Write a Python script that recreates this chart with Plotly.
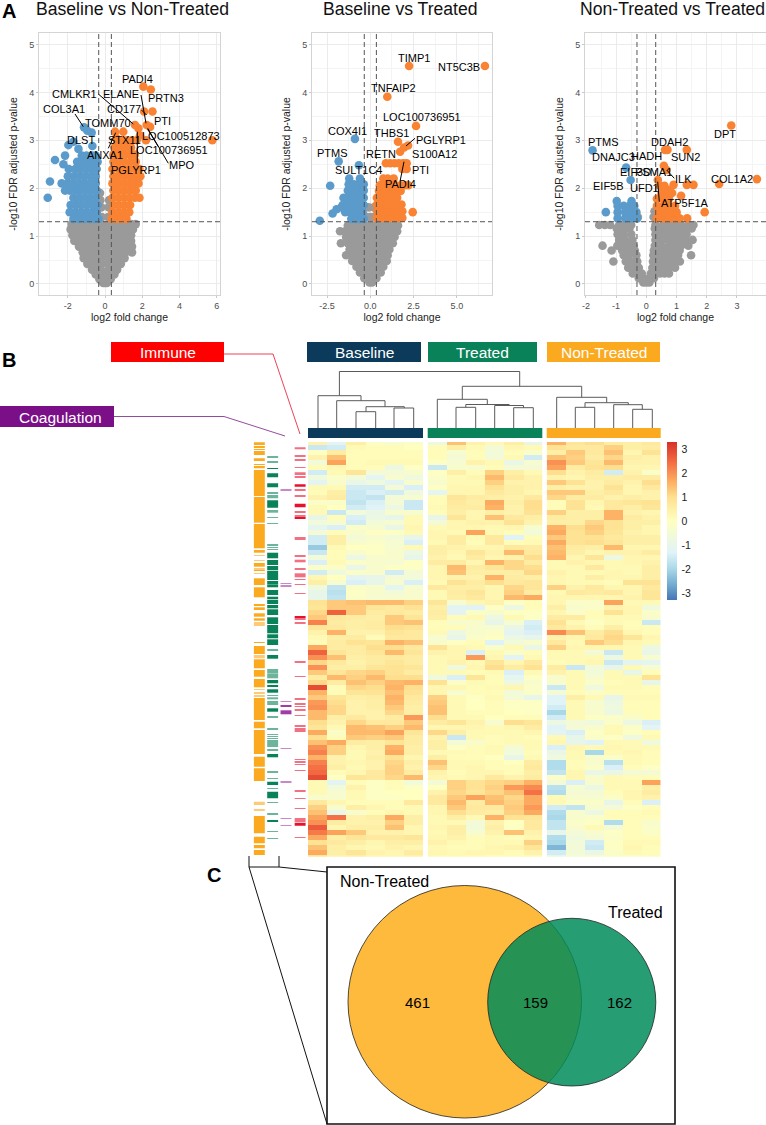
import plotly.graph_objects as go

W, H = 766, 1125
FONT = "Liberation Sans"
ORANGE, BLUE, GRAY = "#F98332", "#5A9BCB", "#9A9A9A"
C_BASE, C_TREAT, C_NON = "#0B3A5B", "#0A8259", "#FBA91E"

# ---------------- volcano data (y level: log2 fold changes) ----------------
v1_gray = {
 .02:[-.1,0,.1], .1:[-.3,-.15,0,.15,.3], .2:[-.5,-.3,-.1,.1,.3,.5], .3:[-.7,-.45,-.22,.2,.45,.65],
 .42:[-.95,-.7,-.45,-.18,.18,.45,.7,.85], .54:[-1.15,-.85,-.55,-.2,.17,.5,.8,1.05],
 .66:[-1.2,-.95,-.65,-.35,-.17,.17,.55,.85,1.1,1.45], .78:[-1.4,-1.2,-.85,-.55,-.2,.17,.55,.85,1.15,1.45],
 .9:[-1.65,-1.4,-1.1,-.8,-.5,-.18,.17,.5,.8,1.1,1.4], 1.02:[-1.75,-1.4,-1.1,-.8,-.5,-.18,.17,.5,.8,1.1,1.4],
 1.14:[-1.85,-1.55,-1.25,-.95,-.65,-.35,-.17,.17,.5,.8,1.1,1.5], 1.25:[-1.8,-1.5,-1.2,-.9,-.6,-.3,-.17,.17,.5,.8,1.1,1.4,1.65],
 1.4:[-.17,.17], 1.6:[-.2,.2], 1.75:[-.25,.22], 1.9:[-.27]}
v1_blue = {
 1.36:[-1.7,-1.4,-1.1,-.8,-.55,-.35], 1.5:[-1.9,-1.6,-1.3,-1,-.7,-.45], 1.65:[-1.85,-1.55,-1.25,-.95,-.65,-.4],
 1.8:[-3.08,-1.7,-1.4,-1.1,-.8,-.5], 1.95:[-2.15,-1.9,-1.6,-1.3,-1,-.7,-.45], 2.1:[-2.33,-2,-1.7,-1.4,-1.1,-.8,-.5],
 2.14:[-2.96], 2.25:[-2,-1.7,-1.4,-1.1,-.8,-.5], 2.4:[-1.95,-1.6,-1.3,-1,-.7,-.45], 2.5:[-2.24],
 2.55:[-1.5,-1.2,-.9,-.6,-.4], 2.59:[-2.69], 2.68:[-2.15,-1.25,-1,-.7,-.5], 2.82:[-1.43], 2.88:[-.68],
 2.9:[-1.97], 2.97:[-1.7], 3.16:[-.72], 3.2:[-.95], 3.27:[-1.13]}
v1_orange = {
 1.36:[.35,.6,.9,1.15], 1.5:[.4,.7,1,1.3], 1.65:[.45,.75,1.05,1.35], 1.8:[.4,.7,1,1.3,1.6,1.85],
 1.95:[.45,.75,1.05,1.35,1.65], 2.1:[.4,.7,1,1.3,1.6,1.8], 2.25:[.45,.75,1.05,1.35,1.65,1.9],
 2.4:[.4,.7,1,1.3,1.6,1.85], 2.55:[.45,.75,1.05,1.35,1.65], 2.7:[.45,.75,1.05,1.35,1.6],
 2.85:[.5,.8,1.1,1.4], 3.0:[.65,.95,1.2,1.45,1.7,2.2,5.77], 3.05:[.6], 3.1:[1.88], 3.18:[.54,.98],
 3.25:[1.79], 3.28:[2.42], 3.32:[1.61,2.24], 3.6:[2.1,2.55], 4.06:[2.46], 4.12:[2.06]}

v2_gray = {
 .03:[-.05,.1], .12:[-.35,-.15,.15,.35], .24:[-.6,-.35,-.1,.15,.4,.6], .36:[-.8,-.5,-.25,0,.25,.5,.75],
 .48:[-1.05,-.75,-.45,-.2,0,.2,.45,.7,.95], .6:[-1.4,-1.1,-.8,-.5,-.25,0,.2,.45,.7,1],
 .72:[-1.2,-.9,-.6,-.3,0,.2,.5,.8,1.1], .85:[-1.7,-1.3,-1,-.7,-.4,-.2,.05,.25,.5,.8,1.1,1.3],
 .98:[-1.4,-1.1,-.8,-.5,-.25,0,.2,.5,.8,1.1,1.4], 1.1:[-1.75,-1.45,-1.15,-.85,-.55,-.3,0,.2,.5,.8,1.1,1.4,1.55],
 1.22:[-1.3,-1,-.7,-.4,-.2,0,.2,.5,.8,1.1,1.4,1.6], 1.4:[-.2,0,.2], 1.6:[-.1,.2]}
v2_blue = {
 1.32:[-2.92], 1.36:[-1.1,-.85,-.6,-.38], 1.47:[-2.18], 1.5:[-1.45,-1.2,-.95,-.7,-.45], 1.56:[-1.95],
 1.6:[-1.66], 1.65:[-1.6,-1.35,-1.1,-.85,-.6,-.38], 1.8:[-1.55,-1.3,-1.05,-.8,-.55,-.38],
 1.95:[-1.3,-1.05,-.8,-.55,-.38], 2.05:[-2.32], 2.08:[-1.25,-.95,-.7,-.45,-.38], 2.2:[-1.22,-.6],
 2.48:[-.66], 2.56:[-1.83], 3.03:[-.89]}
v2_orange = {
 1.38:[.38,.6,.85,1.1,1.35,1.6,1.85], 1.5:[2.45], 1.52:[.4,.7,1,1.3,1.6,1.85], 1.66:[.38,.65,.95,1.25,1.55,1.8],
 1.8:[.38,.65,.95,1.25,1.55], 1.94:[.5,.8,1.1,1.4,1.75], 2.06:[.55,.85,1.15,1.45,1.75,2.0,2.2],
 2.2:[.75,1.0,1.35], 2.4:[1.85,2.1], 2.52:[.9,1.15,1.4,1.65,1.9,2.1], 2.76:[1.72], 2.85:[1.95],
 2.89:[2.18], 2.97:[1.6], 3.3:[2.64], 3.91:[.98], 4.55:[2.24,6.62]}

v3_gray = {
 .03:[-.1,0,.1], .12:[-.25,-.1,.1,.25], .22:[-.45,-.3,-.15,.15,.3,.45,.6,.75], .34:[-.6,-.42,-.25,.2,.35,.55,.75,.95],
 .47:[-1.09,-.68,-.5,-.3,.22,.4,.6,.8,1.0,1.11], .6:[-.75,-.58,-.33,.23,.45,.65,.85,1.05,1.48],
 .7:[-1.15,-.8,-.6,-.38,.25,.5,.7,.9,1.1], .8:[-1.45,-.96,-.8,-.62,-.42,.28,.5,.75,.95,1.15,1.39],
 .92:[-.9,-.7,-.46,.3,.5,.7,.9,1.1,1.3,1.53], 1.04:[-.95,-.75,-.5,.3,.5,.7,.9,1.1,1.33],
 1.16:[-.98,-.75,-.56,.28,.45,.65,.85,1.05,1.25,1.5], 1.23:[-1.56,-1.37,-1.2,-.9,-.7,-.5,.3,.55,.75,.95,1.15,1.4,1.56],
 1.4:[.24,-.28], 1.52:[.27]}
v3_blue = {
 1.37:[-.95,-.7,-.5,-.3], 1.5:[-1.34,-.95,-.7,-.5,-.33], 1.63:[-.95,-.75,-.55,-.4], 1.73:[-.98,-.49],
 2.17:[-.52], 2.43:[-.67], 2.79:[-1.78]}
v3_orange = {
 1.37:[.35,.55,.75,.95,1.1,1.35], 1.5:[.4,.6,.8,1.0,1.93], 1.63:[.35,.55,.75,.95], 1.78:[.35,.55,.75],
 1.84:[1.15], 1.9:[.5,.7,.85], 1.96:[.73], 2.05:[.45,.6], 2.07:[.9,1.34,1.56], 2.09:[2.41], 2.17:[.38],
 2.19:[3.66], 2.38:[.67], 2.47:[.58], 2.8:[.62,.7,1.34], 3.31:[2.81]}

# ---------------- heatmap data (z-score per gene block) ----------------
baseline_rows = [
[.4,-1.2,.5,-.2,-.4,-.2],[-1.6,-1.5,.2,.1,.1,0],[-.1,.6,.1,.1,.1,.1],[.4,1.4,.1,.1,.1,.1],[-.6,1.8,.1,.2,.2,.2],
[.1,.3,.1,.1,-.8,-.1],[-1.5,.2,.8,-.5,-.5,-.3],[-.7,-.2,-.6,-1.1,-.4,-.7],[-1.2,-.3,-.9,-.7,-1.2,-.3],[.2,.2,-1.5,-1.5,-.5,-1.4],
[.1,.5,-1.6,-1.4,-1.5,-.7],[.4,.6,-1.6,-1.7,-.5,-.4],[-.2,-.2,-1.7,-1.4,-.5,-1.6],[.2,0,-1.5,-1.3,-.8,-1.6],[.2,-1.6,-.6,-.9,-.3,-.4],
[-1,.1,-1.4,-.8,-1,.2],[-.6,-.4,-1.5,-.6,-.4,.2],[-1.1,-1.4,-.2,-.3,-.9,.3],[-.5,.1,-.3,-.1,-.1,.2],[-1.5,.5,-.5,-.3,-.6,-1],
[-1.5,.5,-.3,-.2,-.4,-1.4],[-2.2,.2,0,-.1,-.4,.2],[-1.6,.1,-.3,-.1,-.3,-.8],[-.6,.1,-.8,-.3,-.3,-1],[-1.4,.2,-.2,-.3,-.4,-.1],
[-.2,-.2,-.9,-.3,-.1,-.1],[-1.5,-.7,-.2,-.3,-1.5,-.5],[.3,0,-1.2,-1,-.5,-.6],[.5,-.4,-1.4,-1,-.3,-1.4],[-.7,-1.7,-.2,-.3,-1.1,-.3],
[-1,-1.8,-.1,-.3,-.6,-.3],[-1,-1.7,-.2,-.4,-.3,-.3],[.9,1.3,1.4,1.5,1.5,1.2],[.8,1.3,1.3,.8,.7,.9],[1.1,2.6,1.3,.6,.7,.6],
[1.3,.7,.6,.5,1.3,.8],[2.2,.6,.5,.6,1.3,1.4],[.8,.7,.5,.6,1,.9],[.4,1.6,.4,.4,.8,.7],[.2,.5,.6,.1,.7,.7],
[.1,.6,.9,.8,1.6,1.4],[1.7,.6,.6,1,1,.7],[2.6,.8,.6,.8,1.5,.8],[2,1.4,.5,.6,.7,.6],[1.1,.7,.4,.6,.8,.6],
[2,.5,.5,.8,.9,.8],[1.3,.8,1.1,1.2,.9,.6],[.6,1.5,1.2,1.5,1,1],[1.1,.6,1.4,1.2,1.5,1.6],[2.9,.1,1.1,1,1.6,1],
[1.6,.1,.8,.9,1.4,.9],[1.3,.8,.5,.6,1.6,.7],[1.9,1,.4,.5,1.5,.6],[2,1.1,.4,.5,1.3,.5],[1.5,1.1,.4,.4,1.1,.5],
[1.5,.5,.7,.4,.6,1.9],[1,.4,1.1,.7,.7,1.3],[.8,.2,1.5,1.4,1.2,1.5],[1.7,-.2,1.5,1.5,1.8,.8],[1,.1,1.3,1.2,1.3,.6],
[1.4,1.7,.6,.5,.8,.6],[2,1.2,.3,.5,1.6,.5],[2.2,1.2,.2,.4,1.7,.5],[1.6,.4,.2,.5,.9,.3],[2.2,.4,.3,.4,1.1,.5],
[2.4,.5,.2,.4,1.2,.4],[2.5,.1,.3,.7,1.2,.6],[2.9,-.1,.8,.7,1.1,1.5],[.2,-1.2,.1,-.1,.1,-.6],[.2,-.6,.4,-.1,.1,-.1],
[.2,-.4,.2,-.1,0,0],[-.3,-.3,.2,-.1,-.1,0],[.7,.3,.1,.1,.1,.7],[1.2,-.3,.5,.3,.1,.2],[1.4,-.9,-.3,.1,.3,.2],
[1.8,2.4,.4,.5,1.7,.5],[2,.6,.4,.4,1.2,.5],[2.7,.3,.5,.5,1.4,.3],[2.3,1.8,1.3,.4,.4,.3],[1.7,.5,.8,.7,.7,.8],
[.9,.7,.5,.3,.5,.5],[1.4,.5,.3,.2,.4,.3],[1.7,.5,.8,.4,.3,.6],[.8,.4,.5,.3,.3,.4]]
treated_rows = [
[-.8,1.4,.4,.2,.5,-1],[.1,.5,.2,-.5,.3,.2],[.1,-.4,.1,-.6,.1,-.2],[.1,-.5,.1,-.5,.2,-1.5],[-.1,-.4,.4,.2,-.9,-.4],
[-1.6,-.3,-.3,.1,-.5,-.5],[-.1,.5,.1,1.2,.5,.2],[-.2,.2,.3,1.5,.7,.4],[-.3,.2,.2,1.2,.4,.4],[-.1,.3,.3,.9,.5,.4],
[-1.1,.3,.3,.7,.5,.3],[.1,.8,.6,.5,.4,.7],[.1,.7,.5,1.7,.5,1],[.2,.6,.6,1.6,.4,1],[.1,.5,.3,.5,.4,.9],
[-1,.8,.3,1.4,.7,.5],[-.5,.3,.4,.4,.9,.4],[.2,.3,.3,.2,.3,-.4],[.3,.2,1.8,.2,.1,-.6],[.3,.6,.2,.7,-1.3,.1],
[.2,.6,.1,.7,.1,.2],[.5,.4,.3,.3,.7,.6],[.5,.3,.8,.4,1.5,.7],[.4,.2,.6,.3,.4,1],[.6,.6,.3,1.6,1.1,.6],
[.3,1.5,.6,.8,1.1,1],[.3,1.4,.5,.5,.5,1.1],[.3,.4,.4,1.6,.6,.5],[.2,.9,.6,1,.7,.8],[.7,.5,.5,.3,1.1,.8],
[.2,.6,.8,.3,1.2,.6],[.2,.5,.7,.3,1.5,1.7],[.8,-.4,.3,.4,-.1,.1],[.5,-1.2,-1.3,-.1,-.8,.1],[.6,-1.2,-.2,-.3,-.1,-.1],
[.5,.1,.2,-.8,.2,-.1],[.1,-.3,-.3,-1,-.4,-1.4],[.1,.1,-.3,-.4,-.9,-1.5],[.2,-.8,-.3,-.2,-1.2,-1.4],[-.4,-1,-.2,-.1,-.8,-1],
[-.3,-.1,.1,-1.3,-.6,-.3],[.9,.3,.2,-.2,.2,-.9],[.4,.3,-1.4,.2,-.2,.1],[.2,.3,1.9,.3,-1.2,.2],[.2,.4,.2,.8,.3,.7],
[.2,-.7,.3,1,.6,.9],[.2,.2,.1,.2,-1.4,.2],[-.7,-1.4,.8,.1,-1.1,-.1],[.9,-.2,.2,.1,-.8,-.3],[.3,.3,.1,.2,.3,-.2],
[.3,-.4,.1,.1,-.6,-.2],[1.2,.2,-.1,.2,-.5,-1],[1.3,.2,0,.1,-.1,-.1],[1.4,.2,0,.1,-.1,-.1],[1.4,.2,.1,.1,0,-.1],
[1,.2,.2,0,.1,.1],[.6,.8,.4,-.4,1,.8],[.3,.3,.3,.2,.3,.6],[1.1,.5,.2,.2,.2,.3],[.4,-1.6,.2,.1,.2,.1],
[.5,-.5,-.3,.1,.2,.2],[.5,-.1,.1,.2,-.5,.2],[.2,.2,.1,.2,-.6,.1],[.5,.1,.1,0,-1,.2],[1.4,.2,.2,.1,0,.6],
[1.1,.2,.3,.1,.1,.7],[.4,.1,.3,.3,.1,.5],[.3,.2,.3,.7,.4,.6],[-.5,1.2,.9,1.1,1.2,1.6],[0,1.2,.9,1.2,1.9,2.1],
[.4,1.1,.8,1.1,1.4,2.4],[.7,1.3,1.8,1.4,1.1,1.7],[.7,1.5,.6,1.5,1.2,1.7],[.3,1.3,.7,.7,1.3,1.9],[.3,1,.6,.5,1.2,1.7],
[.2,.5,.2,1.6,.9,.8],[.2,.2,-.5,.4,0,.7],[.3,.5,-.6,.5,-.1,.7],[.2,.5,-.4,.4,1.4,.4],[.3,.4,.1,.2,.1,.3],
[.4,.2,.1,.2,.2,1.2],[.2,.1,.1,.3,.4,.8],[.3,.2,.3,.3,.1,.4],[.2,.2,.2,.1,.1,.2]]
nontreated_rows = [
[1.6,.8,1,.6,.5,.7],[.9,.7,.7,1.2,.5,.6],[.5,1.3,.7,1.4,.3,.9],[1.4,1.2,.6,1.1,.5,.4],[2,1.3,.8,1.5,.4,.4],
[1.8,.6,.9,1,.3,.3],[1,.4,.6,-1.5,.4,-.2],[.4,.3,.5,.5,.6,.6],[1.3,.9,.4,.6,.4,1],[.5,.4,.4,.9,.3,.7],
[1.3,1.3,.5,.7,.3,.4],[1.1,.6,.6,.4,.5,.4],[.1,.9,.3,.7,.8,.9],[.1,.9,.2,.7,.5,.8],[1.2,.5,.5,1.6,.4,.3],
[.6,.5,.5,1.6,.6,.4],[.5,.5,1.1,.9,.5,.5],[1.6,1,1.3,.9,.5,.3],[1.7,.9,1.2,.8,.4,.3],[1.3,.9,.9,.7,.5,.5],
[1.7,.9,1,.8,.5,.5],[1.4,.6,.5,1.5,.3,.3],[1.5,.5,.3,.4,.4,.6],[1.6,.3,.8,-.8,.3,.3],[.2,.4,.3,.2,.3,.4],
[.2,.2,.7,.2,.2,.5],[.4,.2,.2,.3,.2,.5],[.3,.2,.5,.3,.3,.5],[.3,.2,.2,.1,.9,.9],[1.2,.4,.7,.3,.3,.7],
[.2,.7,.6,.7,.3,.8],[.3,.3,.3,.3,.4,.8],[.3,-.2,-.2,1.8,.2,.2],[.5,-.3,-.2,.4,.3,-.7],[.3,-.2,.1,.9,.3,-.2],
[.6,.6,.1,.2,.2,-.3],[.9,.2,-.1,.2,.1,-1.6],[.7,.4,.1,.5,.1,.1],[2.1,1.4,.6,1,.3,.1],[.4,.3,.7,1.1,.8,.3],
[.7,.2,1.3,1,.3,.2],[1.2,.3,.3,.3,.2,-.8],[.2,.2,-.5,-1.6,.2,-.9],[.2,.2,.2,-.8,.2,-.4],[.1,.2,.3,-1.6,-1.2,-1.1],
[.6,-1.6,-.6,-1,.2,-.4],[.4,.2,-.6,.2,-1,.1],[-.3,.2,-.4,.2,.2,.9],[-.3,.2,-.2,.1,.2,-1],[-1.6,.2,-.7,.2,.2,.1],
[-.5,.1,-.2,.1,.1,.1],[-1.3,.5,.2,-1,.2,.2],[-1.3,.2,-.4,-.8,.1,.1],[-1.5,.2,-.3,-.7,.1,.1],[-2,.2,-.3,-.8,.1,.1],
[-1.5,.2,-.1,-.2,-.3,.1],[-.8,-.5,-.7,-.2,-.8,-1.4],[-1.3,-.5,-.3,.2,-.2,-1.2],[-1.2,-1.4,-.1,.2,-.1,.1],[.2,-1,-.2,-.1,-.7,.2],
[.3,-1,-1.3,.2,.2,-.7],[-1.4,.3,.2,.3,.2,.2],[-.9,.2,-2,.2,.3,.1],[-.7,.2,-.3,-.2,.2,.1],[-1.9,.1,-.3,-1.8,.2,.1],
[-1.9,.1,-.2,-1.4,.1,-.1],[-1.7,.3,-.9,-.9,-.5,-.5],[-.2,.3,-.3,.2,.1,.1],[-.5,-1.4,-.3,.2,.2,1.8],[-1.8,-.4,-.8,.2,.2,.5],
[-1.9,-.5,-.5,.1,.3,.6],[.2,-.3,-.4,-.2,.3,.4],[.2,-.2,-.2,-1,.1,-1.4],[-1.5,-1.7,-.4,-.5,-.1,.1],[-1.9,-.3,-.8,.1,.1,.2],
[-2,-.3,-.2,.1,.1,.1],[-1.7,-.2,-.1,-1.9,.1,-.3],[-1.7,-.3,.2,-.5,.1,-.2],[-1,-.5,-.3,-.1,.1,-.2],[-1.9,-.7,-.5,-.2,.1,.1],
[-2,-.6,-1.5,-.1,.2,.2],[-2.5,-.5,-1.6,-.1,.3,.1],[-1.5,-.6,-.9,-.2,.2,.1],[-1,-.4,-.4,-.2,-.2,-.2]]
colorbar_ticks = [-3, -2, -1, 0, 1, 2, 3]
colorbar_labels = ["-3", "-2", "-1", "0", "1", "2", "3"]

# annotation tracks: (start, end) along the gene ruler; *_faint = thin blended lines
track_orange = [(442.3,445),(446.2,447.2),(449,450),(451.3,452.3),(453.6,454.6),(458.3,461),(464,465),(466.7,468.3),(470,496),(497,522.7),(524,548.3),(550,552.7),
 (563,566.7),(570,571),(578.3,585),(587.3,597.3),(604.3,605.7),(607.3,610),(613.3,616.7),(618.3,620.7),(642,643),(646,654),(659.3,668.3),(670,676.7),(679,687.3),(698,720),(721.7,728.3),(730,754),(756.7,766.7),(768.3,781),(816,833.3),(836.7,843.3),(845,848.3),(850,855)]
track_orange_faint = [(555,556),(560,561),(568.3,570),(573,574),(622.2,623.2),(624.5,625.5),(655,658.3),(689,690),(692.2,693.2),(695.5,696.5),(801.7,805),(809.5,810.5)]
track_green = [(468,469),(473.3,477.3),(483.3,487.3),(500.3,507.7),(552.7,558.3),(560,565),(566,570),(570.7,580),(581,584),(584.3,587.3),(590,595),(596.7,599.3),(600,604),(605,608.3),(609.3,615),(617.3,624),(625,633.3),(634.3,638.3),(639.3,645),(655,658.7),(680,683.3),(685,686.7),(689.3,692.7),(708.3,711.7),(754,757.3),(781.7,785),(791.7,798.3),(820.2,821.2)]
track_green_faint = [(456.2,457.2),(461.8,462.8),(492.2,493.2),(495,498.3),(510,512.7),(517,518),(523,524),(544.7,545.7),(547,548),(549,550),(649.6,650.6),(669.6,670.6),(671.4,672.4),(673.3,678.3),(695,696),(697.3,699.3),(701,705),(716.2,717.2),(728.7,729.7),(734,735),(736,737),(738,739),(740,741),(741.7,742.7),(743.3,744.3),(745.7,746.7),(749.6,750.6),(771.3,772.3),(778,779),(788,789),(802,803),(813.3,814.3),(831,832),(838,839)]
track_purple = [(705,707),(710.3,714.3)]
track_purple_faint = [(489.8,490.8),(583,584),(585.5,586.5),(701,702),(748,749),(781.6,782.6),(818,819),(825,826)]
track_red = [(484.3,486.7),(503.7,507.3),(517.3,519),(616,617.3),(822.7,825.7)]
track_red_faint = [(447.3,449.3),(455.6,456.6),(459.6,460.6),(467,468),(472.3,475),(476.3,477.3),(489.6,490.6),(495.3,496.3),(511.3,512.3),(515.3,516.3),(537.2,538.2),(539,540),(555.6,556.6),(559.7,562.3),(568.3,569.3),(573.3,577.3),(579,580),(584,585),(593,594),(618.3,619.3),(622.2,623.2),(661.2,662.2),(676,677),(698.5,699.5),(703.6,704.6),(706,707),(709.6,710.6),(715,716),(725.5,727),(728.3,729.3),(730.3,731.3),(759,760),(761.3,762.3),(764,765),(770,771),(790,791.7),(798,799),(808,809),(818.3,819.3),(820.7,821.7),(837,838)]

# dendrogram merges: left, right, height, left child height, right child height
dendro_merges = [
 (339.4,519.7,371.5,395.7,386.3),(318,361,395.7,428,400.7),(336.7,385,400.7,428,406.7),(366,404.3,406.7,411.7,408),
 (356,375.7,411.7,428,428),(394,413.7,408,428,428),(462.3,581.7,386.3,399.3,397.3),(437.3,487.3,399.3,428,404.5),
 (465.8,509.2,404.5,407.3,405.5),(456,475.7,407.3,428,428),(494.7,523.5,405.5,428,407.7),(513.7,533.3,407.7,428,428),
 (556.7,606.7,397.3,428,402.7),(585,628.3,402.7,407.3,404.7),(575.3,594.7,407.3,428,428),(613.7,642.3,404.7,428,409.3),(632.7,652.3,409.3,428,428)]

venn_counts = ["461", "159", "162"]
venn_sets = ["Non-Treated", "Treated"]
titles = ["Baseline vs Non-Treated", "Baseline vs Treated", "Non-Treated vs Treated"]
group_names = ["Baseline", "Treated", "Non-Treated"]

# gene labels (text, x px, y px)
labels = [
 ("PADI4",137.7,78.7),("CMLKR1",74.3,94),("ELANE",121,94),("PRTN3",165.7,98.3),("COL3A1",63.7,108.7),("CD177",123.7,108.7),
 ("TOMM70",108.3,122.7),("PTI",162.3,121.3),("LOC100512873",181.3,135.7),("DLST",80.7,140.3),("STX11",124,140.3),
 ("LOC100736951",169,150.3),("ANXA1",104.7,155),("MPO",181.7,165),("PGLYRP1",136.3,169.7),
 ("TIMP1",414.3,58),("NT5C3B",459.3,66.7),("TNFAIP2",393.3,88.3),("LOC100736951",421.7,117.3),("COX4I1",347.7,130.7),
 ("THBS1",391.7,133.3),("PGLYRP1",441,140),("PTMS",332.7,153),("RETN",381,154),("S100A12",434,154.3),("SULT1C4",358.3,170),
 ("PTI",420,170),("PADI4",400.3,184.3),
 ("PTMS",603.3,142.3),("DDAH2",669,141.7),("DPT",725.3,134),("DNAJC3",613.3,157),("HADH",646.7,155.7),("SUN2",685,157),
 ("EIF3D",635,171.7),("PSMA1",653.3,172.3),("ILK",683.7,179.3),("COL1A2",731.7,179.3),("EIF5B",608.3,185.7),("UFD1",644,188.3),("ATP5F1A",684.7,203.3)]
label_segments = [
 (98.3,94,133.3,124),(141,95,146,123.3),(75,114,83.3,126.7),(115.7,132.7,108.3,148.3),(137.3,131.7,137.3,163.3),
 (147.7,128.3,168.3,163.3),(147.7,129.3,158.3,146.7),(141.5,110,146.5,115),
 (415,138.3,406,146),(404,161.7,400.3,180),(666.7,170,674.3,178.3),(657.7,181.7,659.3,201.7)]


def flat(d):
    xs, ys = [], []
    for y, vals in d.items():
        xs += vals
        ys += [y] * len(vals)
    return xs, ys


def dx(l, r):
    return [l / W, r / W]


def dy(t, b):
    return [1 - b / H, 1 - t / H]


fig = go.Figure()
layout = dict(width=W, height=H, margin=dict(l=0, r=0, t=0, b=0, autoexpand=False), paper_bgcolor="white", plot_bgcolor="rgba(0,0,0,0)",
              showlegend=False, barmode="overlay", font=dict(family=FONT, color="black"))

# volcano panels
panels = [
 (1, 39, 220, (-3.55, 6.18), [-2,0,2,4,6], ["-2","0","2","4","6"], 1, .34, (v1_gray, v1_blue, v1_orange)),
 (2, 312, 492, (-3.37, 7.03), [-2.5,0,2.5,5], ["-2.5","0.0","2.5","5.0"], 1.25, .35, (v2_gray, v2_blue, v2_orange)),
 (3, 585, 766, (-2.03, 3.96), [-2,-1,0,1,2,3], ["-2","-1","0","1","2","3"], .5, .31, (v3_gray, v3_blue, v3_orange)),
]
TICKF = dict(size=9, color="#4D4D4D", family=FONT)
for i, l, r, xr, tv, tt, minor, thr, (g, b, o) in panels:
    sx = "" if i == 1 else str(i)
    layout[f"xaxis{sx}"] = dict(domain=dx(l, r), range=xr, tickvals=tv, ticktext=tt, tickfont=TICKF, anchor=f"y{sx}",
        showgrid=True, gridcolor="#EBEBEB", gridwidth=1, minor=dict(dtick=minor, showgrid=True, gridcolor="#F4F4F4", gridwidth=.6),
        zeroline=False, showline=True, mirror=True, linecolor="#D4D4D4", linewidth=1, ticks="outside", ticklen=2, tickcolor="#C8C8C8",
        title=dict(text="log2 fold change", font=dict(size=10.5, color="#222"), standoff=1))
    layout[f"yaxis{sx}"] = dict(domain=dy(33, 295), range=(-.23, 5.24), tickvals=[0,1,2,3,4,5], tickfont=TICKF, anchor=f"x{sx}",
        showgrid=True, gridcolor="#EBEBEB", gridwidth=1, minor=dict(dtick=.5, showgrid=True, gridcolor="#F4F4F4", gridwidth=.6),
        zeroline=False, showline=True, mirror=(i != 3), linecolor="#D4D4D4", linewidth=1, ticks="outside", ticklen=2, tickcolor="#C8C8C8",
        title=dict(text="-log10 FDR adjusted p-value", font=dict(size=10.5, color="#222"), standoff=9))
    for d, c in ((g, GRAY), (b, BLUE), (o, ORANGE)):
        xs, ys = flat(d)
        fig.add_trace(go.Scatter(x=xs, y=ys, mode="markers", marker=dict(size=8.6, color=c), xaxis=f"x{sx}", yaxis=f"y{sx}", hoverinfo="skip"))
    fig.add_trace(go.Scatter(x=[-thr,-thr,None,thr,thr,None,xr[0],xr[1]], y=[-.23,5.24,None,-.23,5.24,None,1.3,1.3], mode="lines",
        line=dict(color="#555555", width=1, dash="5px,3px"), xaxis=f"x{sx}", yaxis=f"y{sx}", hoverinfo="skip"))

# heatmaps: row k spans 5 px starting 2 px above the drawn block
heat_cols = [(308, 423, baseline_rows), (427.7, 542.3, treated_rows), (546.7, 660.7, nontreated_rows)]
for j, (l, r, rows) in enumerate(heat_cols):
    k = 4 + j
    layout[f"xaxis{k}"] = dict(domain=dx(l, r), range=(-.5, 5.5), visible=False, anchor=f"y{k}")
    layout[f"yaxis{k}"] = dict(domain=dy(442, 856.7), range=(82.84, -.1), visible=False, anchor=f"x{k}")
    fig.add_trace(go.Heatmap(z=rows, coloraxis="coloraxis", xaxis=f"x{k}", yaxis=f"y{k}", hoverinfo="skip", xgap=0, ygap=0))

layout["coloraxis"] = dict(cmin=-3.3, cmax=3.3, colorscale=[[0,"#4575B4"],[.1,"#74ADD1"],[.2,"#ABD9E9"],[.3,"#E0F3F8"],[.5,"#FFFFBF"],[.65,"#FEE090"],[.75,"#FDAE61"],[.87,"#F46D43"],[1,"#D73027"]],
    colorbar=dict(x=667/W, xanchor="left", y=1-442/H, yanchor="top", len=158/H, lenmode="fraction", thickness=10, thicknessmode="pixels",
                  outlinewidth=0, xpad=0, ypad=0, ticks="outside", ticklen=3, tickcolor="white", tickvals=colorbar_ticks, ticktext=colorbar_labels,
                  ticklabelposition="outside", tickfont=dict(size=10.5, color="#222")))

# annotation tracks
layout["xaxis7"] = dict(domain=dx(248, 308), range=(-.85, 3.65), visible=False, anchor="y7")
layout["yaxis7"] = dict(domain=dy(442, 856.7), range=(856.7, 442), visible=False, anchor="x7")
for pos, solid, faint, col in ((0, track_orange, track_orange_faint, C_NON), (1, track_green, track_green_faint, C_TREAT),
                               (2, track_purple, track_purple_faint, "#A23AA8"), (3.06, track_red, track_red_faint, "#E8112D")):
    for ivs, op in ((solid, 1), (faint, .6)):
        fig.add_trace(go.Bar(x=[pos]*len(ivs), base=[a for a, _ in ivs], y=[e-a for a, e in ivs], width=.82,
                             marker=dict(color=col, opacity=op, line=dict(width=0)), xaxis="x7", yaxis="y7", hoverinfo="skip"))

# page-pixel axis for furniture
layout["xaxis8"] = dict(domain=[0, 1], range=(0, W), visible=False, anchor="y8", fixedrange=True)
layout["yaxis8"] = dict(domain=[0, 1], range=(H, 0), visible=False, anchor="x8", fixedrange=True)

dxs, dys = [], []
for l, r, h, lb, rb in dendro_merges:
    dxs += [l, l, r, r, None]
    dys += [lb, h, h, rb, None]
fig.add_trace(go.Scatter(x=dxs, y=dys, mode="lines", line=dict(color="#5A5A5A", width=1), xaxis="x8", yaxis="y8", hoverinfo="skip"))

sx, sy = [], []
for a, b, c, d in label_segments:
    sx += [a, c, None]
    sy += [b, d, None]
fig.add_trace(go.Scatter(x=sx, y=sy, mode="lines", line=dict(color="black", width=1), xaxis="x8", yaxis="y8", hoverinfo="skip"))

# callout and zoom lines
fig.add_trace(go.Scatter(x=[224,273,300], y=[354,354,434], mode="lines", line=dict(color="#E8112D", width=.8), xaxis="x8", yaxis="y8", hoverinfo="skip"))
fig.add_trace(go.Scatter(x=[114,224,285], y=[416.5,416.5,436], mode="lines", line=dict(color="#7B1A86", width=.8), xaxis="x8", yaxis="y8", hoverinfo="skip"))
fig.add_trace(go.Scatter(x=[249,249,None,279,279,None,249,279,327,None,249,327], y=[856,867,None,856,867,None,867,867,872,None,867,1124], mode="lines",
                         line=dict(color="#111", width=1), xaxis="x8", yaxis="y8", hoverinfo="skip"))

P = dict(xref="x8", yref="y8")
shapes = []
for x0, x1, y0, y1, c in ((111,224,342,362,"#FF0000"),(0,114,406,427,"#7B0F88"),(307,421,342,362,C_BASE),(428,537,342,362,C_TREAT),(547,660,342,362,C_NON),
                          (308,423,428,438,C_BASE),(427.7,542.3,428,438,C_TREAT),(546.7,660.7,428,438,C_NON)):
    shapes.append(dict(type="rect", x0=x0, x1=x1, y0=y0, y1=y1, fillcolor=c, line=dict(width=0), **P))
shapes.append(dict(type="rect", x0=327, x1=675, y0=867, y1=1124, fillcolor="rgba(0,0,0,0)", line=dict(color="#111", width=1.6), **P))
shapes.append(dict(type="circle", x0=348, x1=581.5, y0=885.5, y1=1118, fillcolor="#FEBA3C", line=dict(color="#222", width=.8), **P))
shapes.append(dict(type="circle", x0=487.7, x1=655.8, y0=918.3, y1=1086, fillcolor="rgba(0,140,89,0.85)", line=dict(color="#222", width=.8), **P))
layout["shapes"] = shapes

ann = []
def txt(t, x, y, size, color="black", bold=False):
    ann.append(dict(text=f"<b>{t}</b>" if bold else t, x=x, y=y, showarrow=False, xanchor="center", yanchor="middle",
                    font=dict(size=size, color=color, family=FONT), **P))

for t, x, y in labels:
    txt(t, x, y, 11)
for t, x in zip(titles, (132, 400.7, 672.7)):
    txt(t, x, 8.5, 17.6, "#111")
for t, x in zip(group_names, (364, 482.5, 603.5)):
    txt(t, x, 352, 15.5, "white")
txt("Immune", 168, 352, 15.5, "white")
txt("Coagulation", 60, 417, 15.5, "white")
txt("A", 9, 11, 20, bold=True)
txt("B", 9, 360, 20, bold=True)
txt("C", 214, 875, 20, bold=True)
txt(venn_sets[0], 384, 881.7, 16)
txt(venn_sets[1], 635, 912.7, 16)
for t, x in zip(venn_counts, (417, 535, 619)):
    txt(t, x, 1002.7, 15)
layout["annotations"] = ann

fig.update_layout(**layout)
fig.write_html("out.html", config=dict(displayModeBar=False), post_script="document.body.style.margin='0';")
